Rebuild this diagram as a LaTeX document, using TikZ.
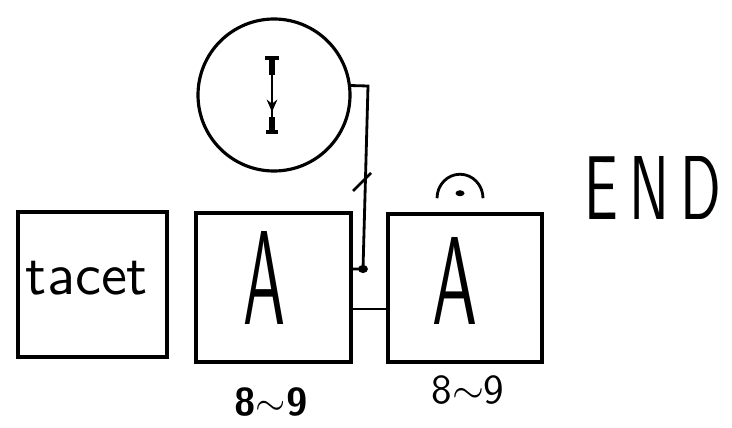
\documentclass[tikz,border=0pt]{standalone}
\usepackage{graphicx}
\usetikzlibrary{arrows.meta,positioning}

% hand-lettered text, stretched to a given width and height
\newcommand{\handtext}[3]{\resizebox{#1}{#2}{\sffamily #3}}

\begin{document}
\begin{tikzpicture}[
  >={Stealth[length=7pt, width=6pt]},
  barbox/.style={draw, line width=2pt, inner sep=0pt},
  motif/.style={draw, circle, line width=1.8pt, minimum size=3.04cm, inner sep=0pt},
  wire/.style={line width=1.6pt},
  lbl/.style={inner sep=0pt},
]
\useasboundingbox (0,0) rectangle (14.64,8.54);

% ---- bars ----
\node[barbox, minimum width=2.98cm, minimum height=2.9cm]  (tacet) at (1.85,2.85) {};
\node[barbox, minimum width=3.1cm,  minimum height=2.98cm] (barA)  at (5.47,2.79) {};
\node[barbox, minimum width=3.08cm, minimum height=2.96cm] (barB)  at (9.30,2.78) {};

% ---- bar contents ----
\node[lbl] (txtT) at (1.74,2.98) {\handtext{2.44cm}{!}{tacet}};
\node[lbl] (txtA) at (5.28,2.98) {\handtext{0.84cm}{1.86cm}{A}};
\node[lbl] (txtB) at (9.10,2.92) {\handtext{0.9cm}{1.74cm}{A}};

% ---- bar counts ----
\node[lbl] (cntA) at (5.42,0.50) {\handtext{1.46cm}{!}{\bfseries 8$\sim$9}};
\node[lbl] (cntB) at (9.36,0.74) {\handtext{1.46cm}{!}{8$\sim$9}};

% ---- ending ----
\node[lbl] (endmark) at (13.06,4.78) {\handtext{2.74cm}{1.26cm}{E\hspace{0.2em}N\hspace{0.2em}D}};

% ---- fermata ----
\coordinate (ferm) at ([xshift=-0.1cm, yshift=0.28cm]barB.north);
\draw[line width=1.6pt] ([xshift=-0.46cm]ferm) arc (180:0:0.46cm and 0.48cm);
\fill ([yshift=0.1cm]ferm) ellipse (0.09cm and 0.06cm);

% ---- motif circle ----
\node[motif] (cue) at (5.48,6.64) {};
\coordinate (cueTop) at (5.44,7.38);
\coordinate (cueBot) at (5.44,5.90);
\draw[line width=1.2pt] (cueTop) -- (cueBot);
\draw[line width=1.2pt, ->] (cueTop) -- (5.44,6.30);
\draw[line width=2.6pt] ([xshift=-0.14cm]cueTop) -- ([xshift=0.14cm]cueTop);
\draw[line width=3.6pt] (cueTop) -- ++(0,-0.34);
\draw[line width=2.6pt] ([xshift=-0.12cm]cueBot) -- ([xshift=0.12cm]cueBot);
\draw[line width=3.6pt] (cueBot) -- ++(0,0.3);

% ---- connectors ----
\coordinate (bend) at (7.36,6.82);
\coordinate (drop) at (7.26,3.16);
\draw[wire] (cue.7) -- (bend) -- (drop) -- (drop -| barA.east);
\fill (drop) ellipse (0.1cm and 0.08cm);
\draw[wire] (7.06,4.72) -- (7.42,5.08);
\draw[wire] ([yshift=-0.43cm]barA.east) -- ([yshift=-0.42cm]barB.west);

\end{tikzpicture}
\end{document}
